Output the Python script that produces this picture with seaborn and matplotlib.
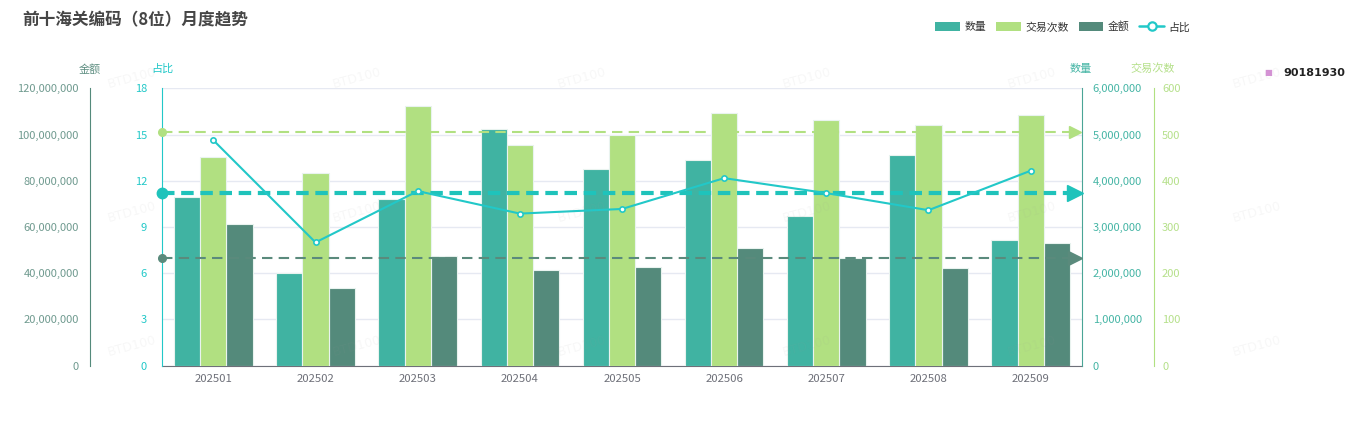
import numpy as np
import pandas as pd
import matplotlib
matplotlib.use("Agg")
import matplotlib.pyplot as plt
import matplotlib.transforms as mtransforms
from matplotlib.patches import Patch
from matplotlib.lines import Line2D
import seaborn as sns

# Datos
meses = ["202501", "202502", "202503", "202504", "202505",
         "202506", "202507", "202508", "202509"]
cantidad = [3654000, 2008000, 3596000, 5110000, 4260000,
            4440000, 3230000, 4550000, 2710000]          # 数量
transacciones = [452, 417, 562, 477, 498, 546, 531, 521, 542]  # 交易次数
importe = [61.4e6, 33.6e6, 47.5e6, 41.3e6, 42.6e6,
           51.0e6, 46.8e6, 42.3e6, 53.0e6]              # 金额
proporcion = [14.63, 8.0, 11.33, 9.87, 10.17, 12.17, 11.2, 10.09, 12.65]  # 占比
series = ["数量", "交易次数", "金额"]
codigo = "90181930"

c_qty, c_cnt, c_amt, c_pct = "#40b3a2", "#b1e081", "#548a7b", "#22c8c8"
paleta = {"数量": c_qty, "交易次数": c_cnt, "金额": c_amt}

sns.set_style("white")
plt.rcParams["font.family"] = ["Noto Sans CJK SC", "DejaVu Sans"]
plt.rcParams["axes.unicode_minus"] = False

df = pd.concat([
    pd.DataFrame({"mes": meses, "serie": "数量", "valor": cantidad}),
    pd.DataFrame({"mes": meses, "serie": "交易次数", "valor": transacciones}),
    pd.DataFrame({"mes": meses, "serie": "金额", "valor": importe}),
])

W, H = 1369, 424
fig = plt.figure(figsize=(W / 100, H / 100), dpi=100)
L, R, T, B = 162.3, 1081.7, 88.3, 365.7
ax_amt = fig.add_axes([L / W, 1 - B / H, (R - L) / W, (B - T) / H])
ax_qty = ax_amt.twinx()
ax_cnt = ax_amt.twinx()
ax_pct = ax_amt.twinx()

ejes = {"数量": ax_qty, "交易次数": ax_cnt, "金额": ax_amt}
for s, a in ejes.items():
    sns.barplot(data=df[df["serie"] == s], x="mes", y="valor", hue="serie",
                hue_order=series, palette=paleta, order=meses, dodge=True,
                width=0.77, errorbar=None, legend=False, ax=a,
                edgecolor="#e9f3ef", linewidth=0.8, saturation=1)
    a.set_ylabel("")
    a.set_xlabel("")

# Línea de proporción
x_pos = np.arange(len(meses))
sns.lineplot(x=x_pos, y=proporcion, ax=ax_pct, color=c_pct, linewidth=1.5,
             marker="o", markersize=3.8, markerfacecolor="white",
             markeredgecolor=c_pct, markeredgewidth=1.2, zorder=6)

# Límites y ticks
ax_amt.set_ylim(0, 120e6)
ax_qty.set_ylim(0, 6e6)
ax_cnt.set_ylim(0, 600)
ax_pct.set_ylim(0, 18)
ax_amt.set_xlim(-0.5, len(meses) - 0.5)
ax_amt.set_yticks(np.linspace(0, 120e6, 7))
ax_qty.set_yticks(np.linspace(0, 6e6, 7))
ax_cnt.set_yticks(np.linspace(0, 600, 7))
ax_pct.set_yticks(np.arange(0, 19, 3))
fmt = matplotlib.ticker.FuncFormatter(lambda v, p: f"{v:,.0f}")
for a in (ax_amt, ax_qty, ax_cnt, ax_pct):
    a.yaxis.set_major_formatter(fmt)
    for sp in a.spines.values():
        sp.set_visible(False)

ax_amt.yaxis.grid(True, color="#e6e9f2", linewidth=1)
ax_amt.set_axisbelow(True)
ax_amt.spines["bottom"].set_visible(True)
ax_amt.spines["bottom"].set_color("#6e7079")
ax_amt.tick_params(axis="x", colors="#6e7079", labelsize=8.2, length=4, pad=2)

# 金额: eje izquierdo exterior
ax_amt.spines["left"].set_visible(True)
ax_amt.spines["left"].set_position(("axes", -(L - 90) / (R - L)))
ax_amt.spines["left"].set_color(c_amt)
ax_amt.tick_params(axis="y", length=0, pad=8, labelsize=8, labelcolor="#6f9a8f")

# 占比: eje izquierdo interior
ax_pct.yaxis.set_ticks_position("left")
ax_pct.yaxis.set_label_position("left")
ax_pct.spines["left"].set_visible(True)
ax_pct.spines["left"].set_color(c_pct)
ax_pct.tick_params(axis="y", length=0, pad=11, labelsize=8, labelcolor=c_pct)

# 数量: eje derecho interior
ax_qty.spines["right"].set_visible(True)
ax_qty.spines["right"].set_color("#4aa596")
ax_qty.tick_params(axis="y", length=0, pad=8, labelsize=8, labelcolor="#45b5a5")

# 交易次数: eje derecho exterior
ax_cnt.spines["right"].set_visible(True)
ax_cnt.spines["right"].set_position(("axes", (1153.7 - L) / (R - L)))
ax_cnt.spines["right"].set_color(c_cnt)
ax_cnt.tick_params(axis="y", length=0, pad=6, labelsize=8, labelcolor="#b5e08a")

# Líneas de promedio (markLine)
promedios = [(ax_cnt, np.mean(transacciones), c_cnt, 1.5, 5.5, 9),
             (ax_qty, np.mean(cantidad), "#1fc3bb", 3.0, 7.5, 12),
             (ax_amt, np.mean(importe), "#5a8a7c", 1.5, 5.5, 10)]
for a, m, col, lw, ms, ma in promedios:
    tr = mtransforms.blended_transform_factory(ax_pct.transAxes, a.transData)
    ax_pct.plot([0, 0.993], [m, m], transform=tr, color=col, lw=lw,
                dashes=(5, 3) if lw < 2 else (3, 1.6), clip_on=False, zorder=5)
    ax_pct.plot([0], [m], transform=tr, marker="o", color=col, ms=ms,
                clip_on=False, zorder=5)
    ax_pct.plot([0.993], [m], transform=tr, marker=">", color=col, ms=ma,
                clip_on=False, zorder=5)

# Títulos de ejes
ty = 1 - 69 / H
fig.text(90 / W, ty, "金额", ha="center", va="center", fontsize=8, color="#5f8f82")
fig.text(162 / W, ty, "占比", ha="center", va="center", fontsize=8, color=c_pct)
fig.text(1081 / W, ty, "数量", ha="center", va="center", fontsize=8, color="#45b5a5")
fig.text(1153 / W, ty, "交易次数", ha="center", va="center", fontsize=8, color="#b5e08a")

fig.text(22 / W, 1 - 20 / H, "前十海关编码（8位）月度趋势", ha="left", va="center",
         fontsize=12, fontweight="bold", color="#464646")

# Leyenda
handles = [Patch(facecolor=c_qty, edgecolor="none", label="数量"),
           Patch(facecolor=c_cnt, edgecolor="none", label="交易次数"),
           Patch(facecolor=c_amt, edgecolor="none", label="金额"),
           Line2D([], [], color=c_pct, lw=1.8, marker="o", markersize=6,
                  markerfacecolor="white", markeredgewidth=1.6, label="占比")]
fig.legend(handles=handles, loc="center right", bbox_to_anchor=(1200 / W, 1 - 27 / H),
           ncol=4, frameon=False, fontsize=7.8, handlelength=2.3, handleheight=1.0,
           columnspacing=0.9, handletextpad=0.4, labelcolor="#333333")

fig.text(1268 / W, 1 - 73 / H, "■", ha="center", va="center", fontsize=6,
         color="#d592d5", family="DejaVu Sans")
fig.text(1283 / W, 1 - 73 / H, codigo, ha="left", va="center", fontsize=8,
         fontweight="bold", color="#222222", family="DejaVu Sans")

# Marca de agua
for xw in np.arange(132, 1300, 225):
    for yw in (78, 212, 346):
        fig.text(xw / W, 1 - yw / H, "BTD100", ha="center", va="center",
                 fontsize=9, rotation=15, color="#999999", alpha=0.08,
                 family="DejaVu Sans", zorder=10)

fig.savefig("out.png", dpi=100)
